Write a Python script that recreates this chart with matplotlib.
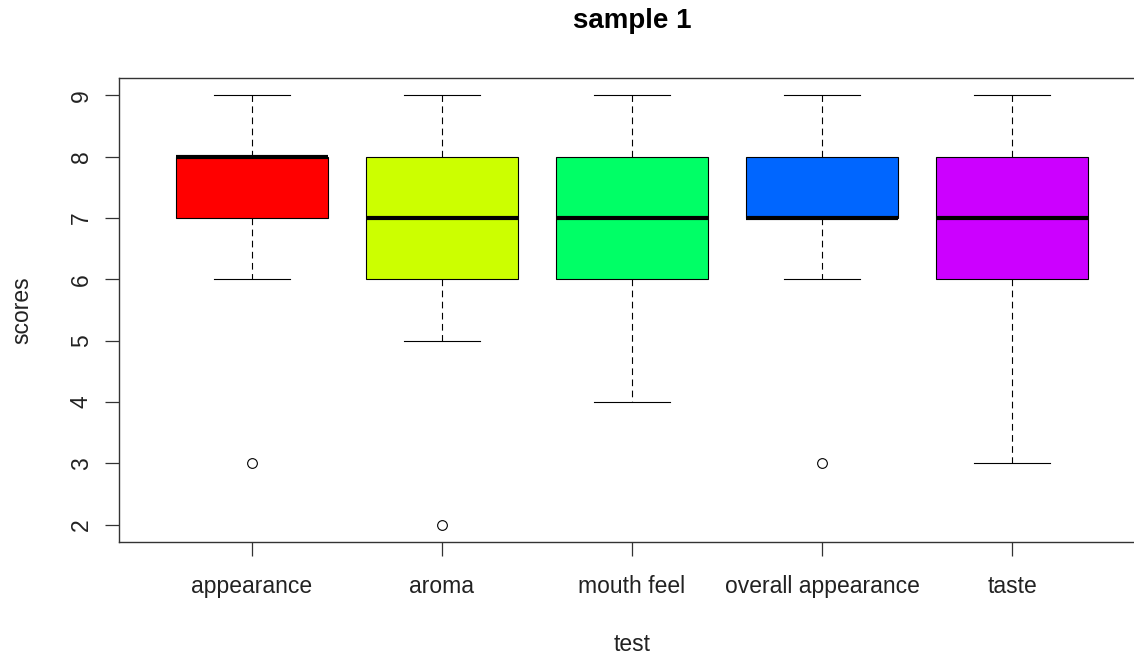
import matplotlib
matplotlib.use("Agg")
import matplotlib.pyplot as plt

plt.rcParams["font.family"] = ["Liberation Sans", "DejaVu Sans"]

# 五组评分的箱线统计量
categories = ["appearance", "aroma", "mouth feel", "overall appearance", "taste"]
whisker_low = [6, 5, 4, 6, 3]
q1 = [7, 6, 6, 7, 6]
medians = [8, 7, 7, 7, 7]
q3 = [8, 8, 8, 8, 8]
whisker_high = [9, 9, 9, 9, 9]
outliers = [[3], [2], [], [3], []]
colors = ["#FF0000", "#CCFF00", "#00FF66", "#0066FF", "#CC00FF"]
yticks = [2, 3, 4, 5, 6, 7, 8, 9]

stats = []
for i, name in enumerate(categories):
    stats.append({
        "label": name,
        "whislo": whisker_low[i],
        "q1": q1[i],
        "med": medians[i],
        "q3": q3[i],
        "whishi": whisker_high[i],
        "fliers": outliers[i],
    })

fig = plt.figure(figsize=(11.34, 6.6), dpi=100)
ax = fig.add_axes([119 / 1134, 1 - 542 / 660, (1145 - 119) / 1134, (542 - 78) / 660])

bp = ax.bxp(
    stats,
    positions=range(1, len(categories) + 1),
    widths=0.8,
    patch_artist=True,
    boxprops=dict(edgecolor="black", linewidth=0.8),
    medianprops=dict(color="black", linewidth=3, solid_capstyle="butt"),
    whiskerprops=dict(color="black", linewidth=0.8, linestyle=(0, (6, 4))),
    capprops=dict(color="black", linewidth=0.8),
    capwidths=0.4,
    flierprops=dict(marker="o", markerfacecolor="none", markeredgecolor="black",
                    markersize=7, markeredgewidth=0.8),
)
for patch, c in zip(bp["boxes"], colors):
    patch.set_facecolor(c)

ax.set_xlim(0.3, 5.7)
ax.set_ylim(1.72, 9.28)
ax.set_yticks(yticks)
ax.set_yticklabels([str(v) for v in yticks], rotation=90, va="center")
ax.tick_params(axis="both", length=10, width=0.9, color="#333333", labelsize=16.5,
               labelcolor="#222222")
ax.tick_params(axis="x", pad=14)
ax.tick_params(axis="y", pad=9)
for s in ax.spines.values():
    s.set_linewidth(1.0)
    s.set_color("#333333")

ax.set_xlabel("test", fontsize=16.5, color="#222222", labelpad=25)
ax.set_ylabel("scores", fontsize=16.5, color="#222222", labelpad=26)
fig.text(632 / 1134, 1 - 21 / 660, "sample 1", fontsize=20, fontweight="bold",
         ha="center", va="center")

fig.savefig("out.png", dpi=100)
